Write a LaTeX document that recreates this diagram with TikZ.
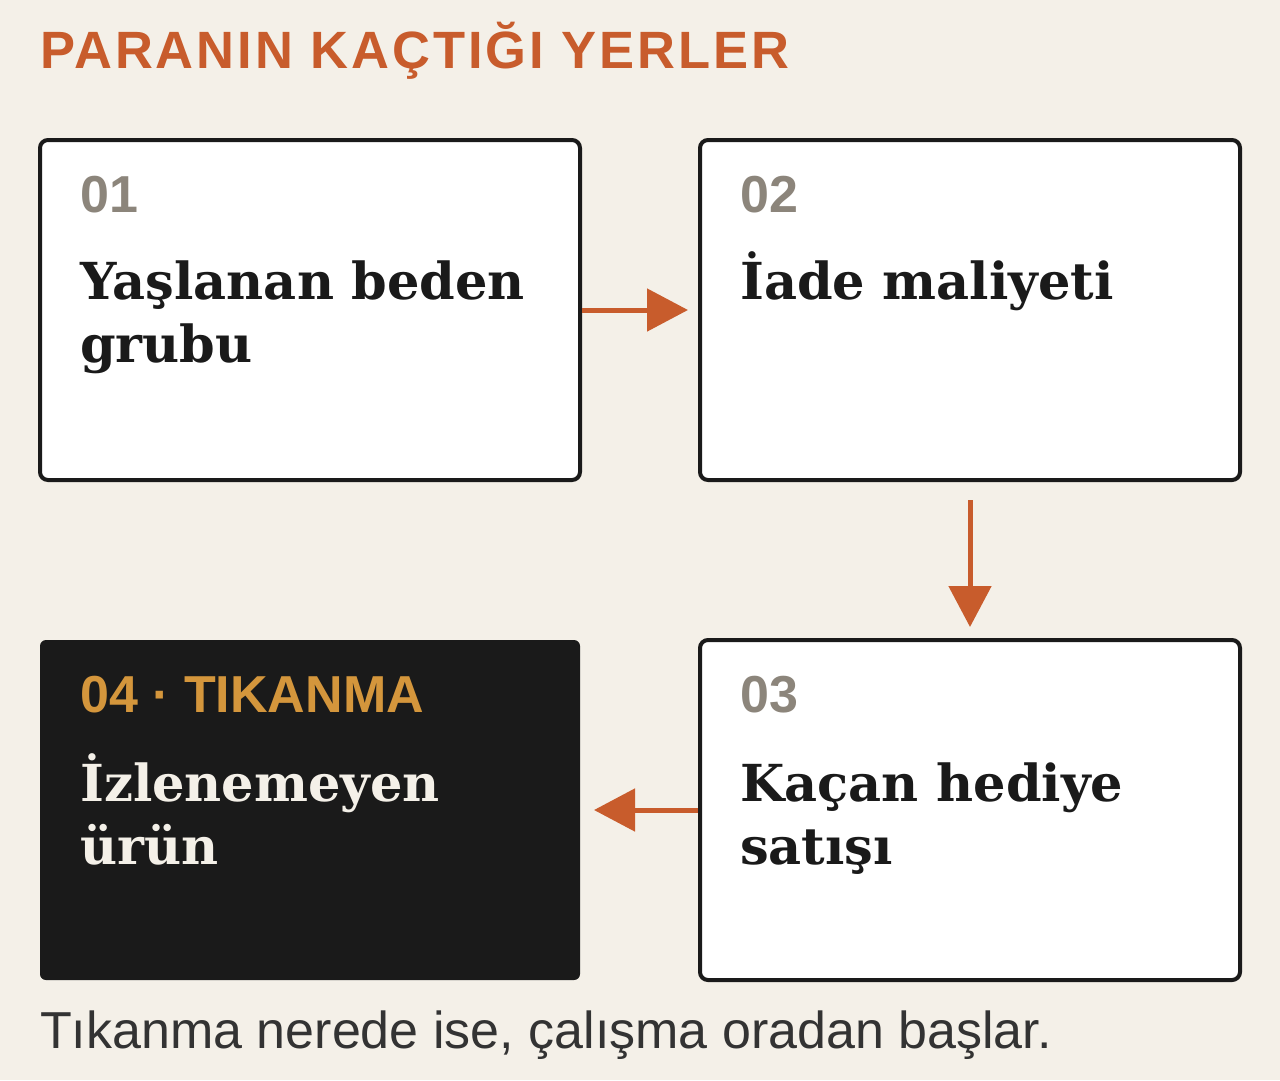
\documentclass[tikz,border=0pt]{standalone}
\usepackage{fontspec}
\setmainfont{DejaVu Serif}
\newfontfamily\labelfont{Liberation Sans}
\newfontfamily\spacedfont{Liberation Sans}[LetterSpace=5.6]
\usetikzlibrary{arrows.meta}

\definecolor{paper}{HTML}{F4F0E8}
\definecolor{ink}{HTML}{1A1A1A}
\definecolor{rust}{HTML}{C85C2C}
\definecolor{stone}{HTML}{8C857B}
\definecolor{gold}{HTML}{D4963C}
\definecolor{note}{HTML}{333333}

\begin{document}
\begin{tikzpicture}[
        x=1pt, y=-1pt,
        card/.style={
            rectangle,
            draw=ink,
            fill=white,
            line width=4pt,
            rounded corners=8pt,
            minimum width=540pt,
            minimum height=340pt,
            inner sep=0pt
        },
        jam_card/.style={card, draw=none, fill=ink, rounded corners=6pt},
        step_num/.style={anchor=base west, inner sep=0pt, text=stone, font=\labelfont\bfseries\fontsize{52}{60}\selectfont},
        step_text/.style={anchor=base west, inner sep=0pt, align=left, text=ink, font=\bfseries\fontsize{51}{63}\selectfont},
        leak_arrow/.style={-{Triangle[length=41pt,width=42pt]}, line width=5pt, rust},
        title/.style={anchor=base west, inner sep=0pt, text=rust, font=\spacedfont\bfseries\fontsize{52.5}{60}\selectfont},
        footnote/.style={anchor=base west, inner sep=0pt, text=note, font=\labelfont\fontsize{52}{60}\selectfont}
    ]

    % Page
    \fill[paper] (0,0) rectangle (1280,1080);
    \useasboundingbox (0,0) rectangle (1280,1080);

    % Title
    \node[title] (head) at (40,68) {PARANIN KAÇTIĞI YERLER};

    % Cards
    \node[card] (c1) at (310,310) {};
    \node[card] (c2) at (970,310) {};
    \node[card] (c3) at (970,810) {};
    \node[jam_card] (c4) at (310,810) {};

    % Numbers
    \node[step_num] (n1) at (80,212) {01};
    \node[step_num] (n2) at (740,212) {02};
    \node[step_num] (n3) at (740,712) {03};
    \node[step_num, text=gold] (n4) at (80,712) {04 · TIKANMA};

    % Card texts (base = last line)
    \node[step_text] (t1) at (80,362) {Yaşlanan beden\\grubu};
    \node[step_text] (t2) at (740,299) {İade maliyeti};
    \node[step_text] (t3) at (740,864) {Kaçan hediye\\satışı};
    \node[step_text, text=paper] (t4) at (80,864) {İzlenemeyen\\ürün};

    % Flow
    \draw[leak_arrow, shorten >=10pt] (c1.east) -- (c2.west);
    \draw[leak_arrow, shorten <=18pt, shorten >=11pt] (c2.south) -- (c3.north);
    \draw[leak_arrow, shorten >=12pt] (c3.west) -- (c4.east);

    % Footer
    \node[footnote] (foot) at (40,1048) {Tıkanma nerede ise, çalışma oradan başlar.};

\end{tikzpicture}
\end{document}
